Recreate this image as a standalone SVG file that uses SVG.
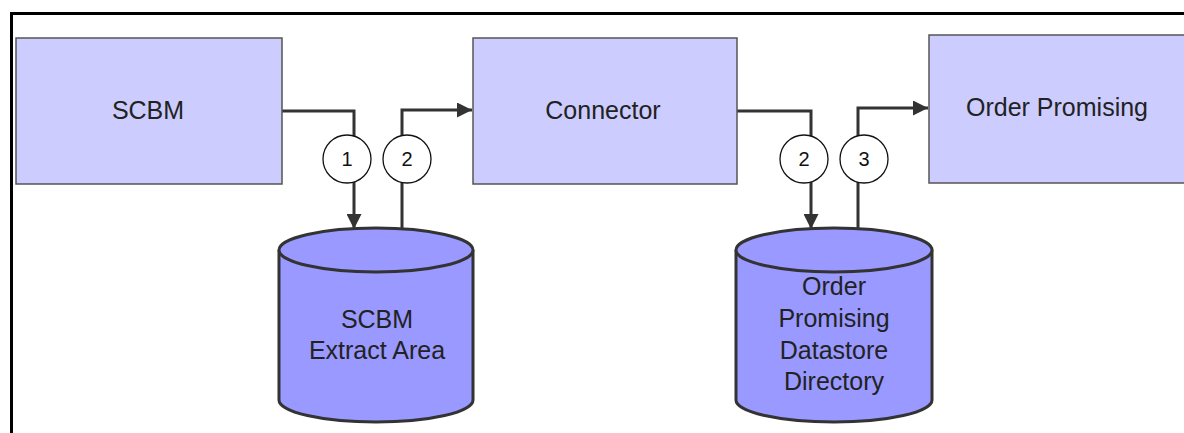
<svg xmlns="http://www.w3.org/2000/svg" width="1184" height="433" viewBox="0 0 1184 433">
<style>
.box{fill:#ccccff;stroke:#555;stroke-width:1.5}
.cyl{fill:#9999ff;stroke:#333;stroke-width:3}
.lbl{font-family:"Liberation Sans",Arial,sans-serif;font-size:25px;fill:#222;text-anchor:middle}
.num{font-family:"Liberation Sans",Arial,sans-serif;font-size:20px;fill:#111;text-anchor:middle}
.conn{fill:none;stroke:#333;stroke-width:3}
.badge{fill:#fff;stroke:#111;stroke-width:1.3}
</style>
<defs>
<marker id="arr" viewBox="0 0 10 10" refX="10" refY="5" markerWidth="5" markerHeight="5" orient="auto" markerUnits="strokeWidth">
<path d="M0,0 L10,5 L0,10 Z" fill="#333"/>
</marker>
</defs>
<rect width="1184" height="433" fill="#fff"/>
<path d="M11.5,440 V13.5 H1190" fill="none" stroke="#000" stroke-width="3"/>

<g id="connectors">
<path class="conn" d="M282,111 H354 V229" marker-end="url(#arr)"/>
<path class="conn" d="M402,233 V110 H472" marker-end="url(#arr)"/>
<path class="conn" d="M737,111 H811 V229" marker-end="url(#arr)"/>
<path class="conn" d="M858,233 V108 H928" marker-end="url(#arr)"/>
<g id="badge1"><circle class="badge" cx="347" cy="159" r="24"/><text class="num" x="347" y="166">1</text></g>
<g id="badge2a"><circle class="badge" cx="407" cy="159" r="24"/><text class="num" x="407" y="166">2</text></g>
<g id="badge2b"><circle class="badge" cx="804" cy="159" r="24"/><text class="num" x="804" y="166">2</text></g>
<g id="badge3"><circle class="badge" cx="864" cy="159" r="24"/><text class="num" x="864" y="166">3</text></g>
</g>

<g id="scbm">
<rect class="box" x="16" y="38" width="266" height="146"/>
<text class="lbl" x="148" y="119">SCBM</text>
</g>

<g id="connector">
<rect class="box" x="473" y="38" width="264" height="146"/>
<text class="lbl" x="603" y="119">Connector</text>
</g>

<g id="order-promising">
<rect class="box" x="929" y="35" width="260" height="148"/>
<text class="lbl" x="1057" y="116">Order Promising</text>
</g>

<g id="scbm-extract">
<path class="cyl" d="M279,250 V400 A97,22 0 0 0 473,400 V250 A97,22 0 0 0 279,250 Z"/>
<path class="cyl" d="M279,250 A97,22 0 0 0 473,250" fill="none"/>
<text class="lbl" x="377" y="328">SCBM</text>
<text class="lbl" x="377" y="359">Extract Area</text>
</g>

<g id="op-datastore">
<path class="cyl" d="M736,250 V400 A98,22 0 0 0 932,400 V250 A98,22 0 0 0 736,250 Z"/>
<path class="cyl" d="M736,250 A98,22 0 0 0 932,250" fill="none"/>
<text class="lbl" x="834" y="295">Order</text>
<text class="lbl" x="834" y="327">Promising</text>
<text class="lbl" x="834" y="359">Datastore</text>
<text class="lbl" x="834" y="390">Directory</text>
</g>
</svg>
